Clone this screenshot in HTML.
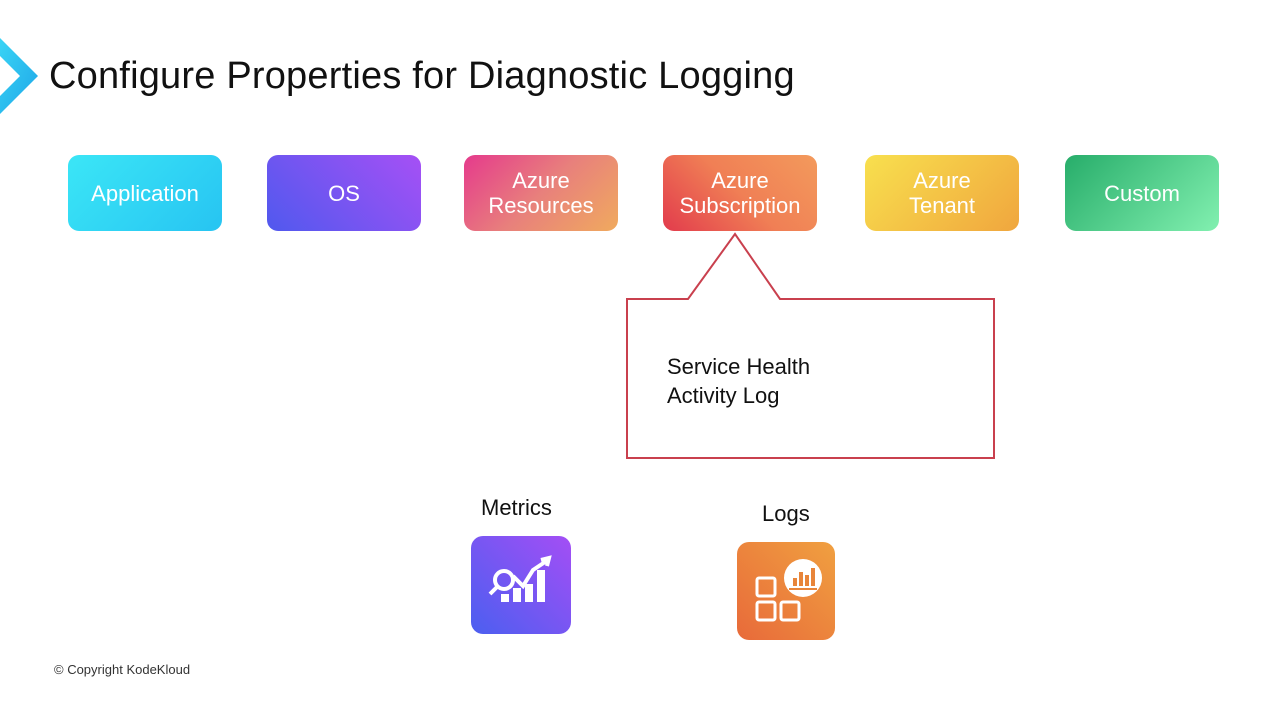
<!DOCTYPE html>
<html><head><style>
body{margin:0;width:1280px;height:720px;background:#fff;position:relative;overflow:hidden;font-family:"Liberation Sans",sans-serif}
.t{position:absolute;left:49px;top:55px;font-size:38px;color:#111;letter-spacing:0.2px}
.b{position:absolute;top:155px;width:154px;height:76px;border-radius:11px;color:#fff;font-size:22px;display:flex;align-items:center;justify-content:center;text-align:center;line-height:25px}
.l{position:absolute;font-size:22px;color:#111}
</style></head><body>
<svg width="1280" height="720" style="position:absolute;left:0;top:0">
<defs><linearGradient id="cv" x1="0" y1="0" x2="1" y2="1"><stop offset="0" stop-color="#3ad4f5"/><stop offset="1" stop-color="#1ea6e8"/></linearGradient></defs>
<polygon points="0,38 38,76 0,114 0,96 20,76 0,56" fill="url(#cv)"/>
<path d="M627,299 H688 L735,234 L780,299 H994 V458 H627 Z" fill="#fff" stroke="#c9404e" stroke-width="2"/>
</svg>
<div class="t">Configure Properties for Diagnostic Logging</div>
<div class="b" style="left:68px;background:linear-gradient(135deg,#3be6f6,#27c4f2)">Application</div>
<div class="b" style="left:267px;background:linear-gradient(45deg,#5059ee,#a650f5)">OS</div>
<div class="b" style="left:464px;background:linear-gradient(135deg,#e53a8c,#e8807c 50%,#f0aa5e)">Azure<br>Resources</div>
<div class="b" style="left:663px;background:linear-gradient(45deg,#e23b4c,#f07f55,#f39a5c)">Azure<br>Subscription</div>
<div class="b" style="left:865px;background:linear-gradient(135deg,#f8e04e,#f0a63e)">Azure<br>Tenant</div>
<div class="b" style="left:1065px;background:linear-gradient(135deg,#27ad6a,#82f0b0)">Custom</div>
<div class="l" style="left:667px;top:352px;line-height:29px">Service Health<br>Activity Log</div>
<div class="l" style="left:481px;top:495px">Metrics</div>
<div class="l" style="left:762px;top:501px">Logs</div>
<div style="position:absolute;left:471px;top:536px;width:100px;height:98px;border-radius:12px;background:linear-gradient(45deg,#4b5ff0,#a44ef5)"></div>
<svg width="100" height="98" style="position:absolute;left:471px;top:536px" fill="none" stroke="#fff" stroke-width="4">
<circle cx="33" cy="44" r="9"/><line x1="26" y1="51" x2="19" y2="58"/>
<path d="M42,40 L52,50 L62,34 L74,26"/><path d="M70,24 L78,22 L76,30" fill="#fff"/>
<g fill="#fff" stroke="none"><rect x="30" y="58" width="8" height="8"/><rect x="42" y="52" width="8" height="14"/><rect x="54" y="48" width="8" height="18"/><rect x="66" y="34" width="8" height="32"/></g>
</svg>
<div style="position:absolute;left:737px;top:542px;width:98px;height:98px;border-radius:12px;background:linear-gradient(45deg,#e86a3a,#f0a040)"></div>
<svg width="98" height="98" style="position:absolute;left:737px;top:542px" fill="none" stroke="#fff" stroke-width="3">
<rect x="20" y="36" width="18" height="18" rx="2"/><rect x="20" y="60" width="18" height="18" rx="2"/><rect x="44" y="60" width="18" height="18" rx="2"/>
<circle cx="66" cy="36" r="19" fill="#fff" stroke="none"/>
<g fill="#e8853a" stroke="none"><rect x="56" y="36" width="4" height="8"/><rect x="62" y="30" width="4" height="14"/><rect x="68" y="33" width="4" height="11"/><rect x="74" y="26" width="4" height="18"/><rect x="52" y="46" width="28" height="2"/></g>
</svg>
<div style="position:absolute;left:54px;top:662px;font-size:13px;color:#333">© Copyright KodeKloud</div>
</body></html>
